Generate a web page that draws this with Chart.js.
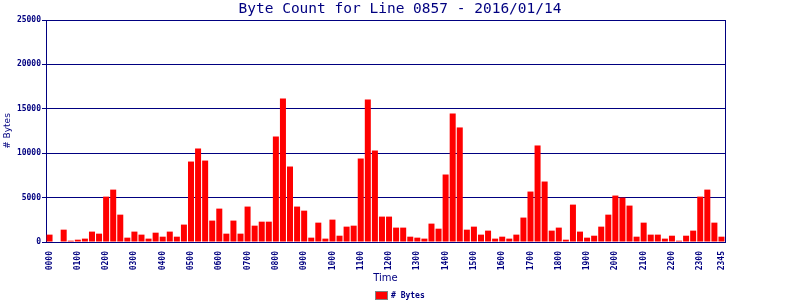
<!DOCTYPE html>
<html>
<head>
<meta charset="utf-8">
<script src="https://cdn.jsdelivr.net/npm/chart.js@4/dist/chart.umd.min.js"></script>
<style>
  body { margin: 0; background: #fff; }
</style>
</head>
<body>
<canvas id="byteChart" width="800" height="300"></canvas>
<script>
  // 15-minute slots, 0000 .. 2345
  const times = [];
  for (let h = 0; h < 24; h++) {
    for (let m = 0; m < 60; m += 15) {
      times.push(String(h).padStart(2, "0") + String(m).padStart(2, "0"));
    }
  }

  const byteCounts = [
    830, 0, 1390, 150, 260, 380, 1170, 940, 5110, 5900, 3080, 490,
    1170, 830, 380, 1050, 600, 1170, 600, 1960, 9060, 10530, 9170, 2410,
    3760, 940, 2410, 940, 3990, 1840, 2290, 2290, 11880, 16170, 8500, 3990,
    3530, 490, 2180, 380, 2520, 710, 1730, 1840, 9400, 16060, 10300, 2860,
    2860, 1620, 1620, 600, 490, 380, 2070, 1500, 7600, 14480, 12900, 1390,
    1730, 830, 1280, 380, 600, 380, 830, 2750, 5680, 10870, 6810, 1280,
    1620, 260, 4210, 1170, 490, 710, 1730, 3080, 5230, 5000, 4100, 600,
    2180, 830, 830, 380, 710, 150, 710, 1280, 5110, 5900, 2180, 600
  ];

  const yTicks = [0, 5000, 10000, 15000, 20000, 25000];

  const navy = "#000080";
  const mono = "'DejaVu Sans Mono', monospace";

  // only every hour plus the final slot gets a label
  const showLabel = (i) => i % 4 === 0 || i === times.length - 1;

  // right border of the plot box + the little legend under the axis title
  const framePlugin = {
    id: "frame",
    afterDraw(chart) {
      const ctx = chart.ctx;
      const area = chart.chartArea;
      const ds = chart.data.datasets[0];
      ctx.save();
      ctx.strokeStyle = navy;
      ctx.lineWidth = 1;
      ctx.beginPath();
      ctx.moveTo(Math.round(area.right) + 0.5, area.top);
      ctx.lineTo(Math.round(area.right) + 0.5, area.bottom);
      ctx.stroke();

      ctx.font = "bold 8px " + mono;
      const tw = ctx.measureText(ds.label).width;
      const boxW = 13, boxH = 9, gap = 3;
      const x0 = Math.round(chart.width / 2 - (boxW + gap + tw) / 2);
      const y0 = 291;
      ctx.fillStyle = ds.backgroundColor;
      ctx.fillRect(x0, y0, boxW, boxH);
      ctx.strokeStyle = "#808080";
      ctx.strokeRect(x0 + 0.5, y0 + 0.5, boxW - 1, boxH - 1);
      ctx.fillStyle = navy;
      ctx.textBaseline = "middle";
      ctx.fillText(ds.label, x0 + boxW + gap, y0 + boxH / 2);
      ctx.restore();
    },
  };

  new Chart(document.getElementById("byteChart").getContext("2d"), {
    type: "bar",
    data: {
      labels: times,
      datasets: [
        {
          label: "# Bytes",
          data: byteCounts,
          backgroundColor: "#ff0000",
          borderWidth: 0,
          barPercentage: 0.85,
          categoryPercentage: 1.0,
        },
      ],
    },
    options: {
      responsive: false,
      animation: false,
      layout: { padding: { left: 0, right: 0, top: 0, bottom: 16 } },
      plugins: {
        title: {
          display: true,
          text: "Byte Count for Line 0857 - 2016/01/14",
          color: navy,
          font: { family: mono, size: 14.5, weight: "normal" },
          padding: { top: 1, bottom: 1.6 },
        },
        legend: { display: false },
        tooltip: { enabled: false },
      },
      scales: {
        x: {
          afterFit: (scale) => { scale.height = 42; },
          grid: { display: false },
          border: { color: navy, width: 1 },
          ticks: {
            autoSkip: false,
            minRotation: 90,
            maxRotation: 90,
            padding: 1,
            color: navy,
            font: { family: mono, size: 8, weight: "bold" },
            callback: (v, i) => (showLabel(i) ? times[i] : ""),
          },
          title: {
            display: true,
            text: "Time",
            color: navy,
            font: { family: "'DejaVu Sans', sans-serif", size: 10 },
            padding: { top: 0, bottom: 0 },
          },
        },
        y: {
          min: 0,
          max: 25000,
          afterFit: (scale) => { scale.width = 46; },
          afterBuildTicks: (scale) => {
            scale.ticks = yTicks.map((v) => ({ value: v }));
          },
          grid: { color: navy, lineWidth: 1, tickLength: 4 },
          border: { color: navy, width: 1 },
          ticks: {
            color: navy,
            padding: 1,
            font: { family: mono, size: 8, weight: "bold" },
            callback: (v) => String(v),
          },
          title: {
            display: true,
            text: "# Bytes",
            color: navy,
            font: { family: "'DejaVu Sans', sans-serif", size: 9 },
            padding: { top: 2, bottom: 0 },
          },
        },
        // empty right-hand axis only reserves the margin so the title centres on the page
        yRight: {
          position: "right",
          afterFit: (scale) => { scale.width = 75; },
          grid: { display: false, drawTicks: false },
          border: { display: false },
          ticks: { display: false },
        },
      },
    },
    plugins: [framePlugin],
  });
</script>
</body>
</html>
